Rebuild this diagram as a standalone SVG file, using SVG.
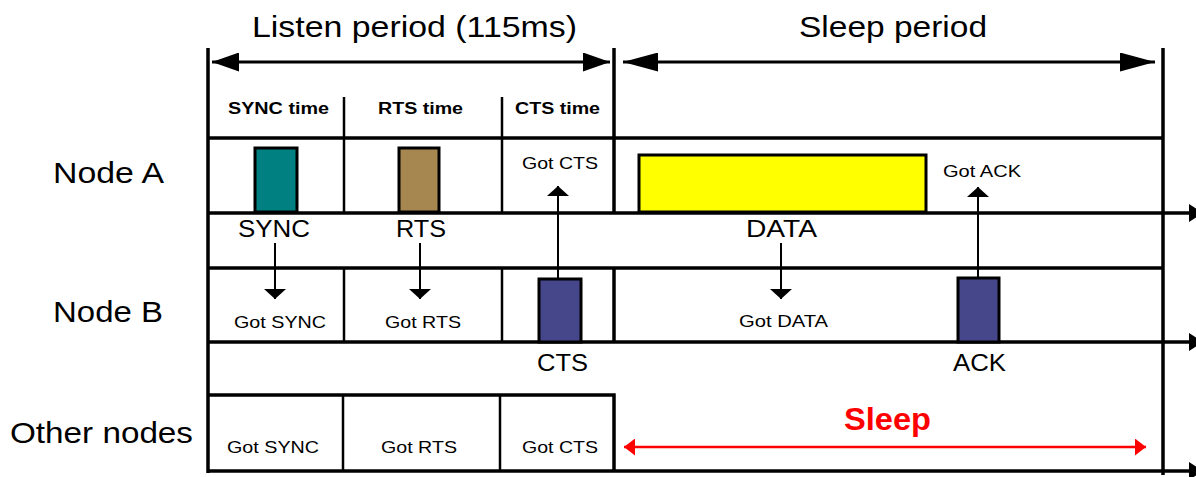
<svg xmlns="http://www.w3.org/2000/svg" width="1196" height="477" viewBox="0 0 1196 477">
<defs>
<style>
.ln{stroke:#000;stroke-width:3.5;fill:none}
.dv{stroke:#000;stroke-width:2.5;fill:none}
.cn{stroke:#000;stroke-width:2;fill:none}
.bx{stroke:#000;stroke-width:3}
.t{font-family:"Liberation Sans",Arial,sans-serif;fill:#000}
.big{font-size:29px}
.hd{font-size:16px;font-weight:bold}
.sm{font-size:17px}
.md{font-size:23px}
</style>
<marker id="ah" viewBox="0 0 10 22" markerWidth="10" markerHeight="22" refX="10" refY="11" orient="auto" markerUnits="userSpaceOnUse"><path d="M0,0 L10,11 L0,22 z" fill="#000"/></marker>
<marker id="hl" viewBox="0 0 27 19" markerWidth="27" markerHeight="19" refX="27" refY="9.5" orient="auto-start-reverse" markerUnits="userSpaceOnUse"><path d="M0,0 L27,9.5 L0,19 z" fill="#000"/></marker>
<marker id="hs" viewBox="0 0 35 19" markerWidth="35" markerHeight="19" refX="35" refY="9.5" orient="auto-start-reverse" markerUnits="userSpaceOnUse"><path d="M0,0 L35,9.5 L0,19 z" fill="#000"/></marker>
<marker id="hr" viewBox="0 0 11 17" markerWidth="11" markerHeight="17" refX="11" refY="8.5" orient="auto-start-reverse" markerUnits="userSpaceOnUse"><path d="M0,0 L11,8.5 L0,17 z" fill="#f00"/></marker>
<marker id="ht" viewBox="0 0 14 18" markerWidth="14" markerHeight="18" refX="14" refY="9" orient="auto" markerUnits="userSpaceOnUse" overflow="visible"><path d="M0,0 L14,9 L0,18 z" fill="#000"/></marker>
</defs>
<rect width="1196" height="477" fill="#fff"/>

<g id="frame">
<line class="ln" x1="208" y1="48" x2="208" y2="473"/>
<line class="ln" x1="614" y1="48" x2="614" y2="213"/>
<line class="ln" x1="614" y1="268" x2="614" y2="342"/>
<line class="ln" x1="1163" y1="48" x2="1163" y2="475"/>
<line class="ln" x1="208" y1="138" x2="1163" y2="138"/>
<line class="dv" x1="344" y1="97" x2="344" y2="213"/>
<line class="dv" x1="502" y1="97" x2="502" y2="213"/>
<text class="t big" x="252" y="37" textLength="325" lengthAdjust="spacingAndGlyphs">Listen period (115ms)</text>
<text class="t big" x="799" y="37" textLength="188" lengthAdjust="spacingAndGlyphs">Sleep period</text>
<text class="t hd" x="228" y="114" textLength="101" lengthAdjust="spacingAndGlyphs">SYNC time</text>
<text class="t hd" x="378" y="114" textLength="85" lengthAdjust="spacingAndGlyphs">RTS time</text>
<text class="t hd" x="515" y="114" textLength="85" lengthAdjust="spacingAndGlyphs">CTS time</text>
</g>

<g id="nodeA">
<text class="t big" x="53" y="183" textLength="111" lengthAdjust="spacingAndGlyphs">Node A</text>
<line class="ln" x1="208" y1="213" x2="1203" y2="213" marker-end="url(#ht)"/>
<rect class="bx" x="255" y="148" width="42" height="64" fill="#008080"/>
<rect class="bx" x="399" y="148" width="40" height="64" fill="#A5874F"/>
<rect class="bx" x="639" y="155" width="287" height="57" fill="#FFFF00"/>
<text class="t sm" x="522" y="169" textLength="76" lengthAdjust="spacingAndGlyphs">Got CTS</text>
<text class="t sm" x="943" y="177" textLength="78" lengthAdjust="spacingAndGlyphs">Got ACK</text>
<text class="t md" x="238" y="237" textLength="72" lengthAdjust="spacingAndGlyphs">SYNC</text>
<text class="t md" x="396" y="237" textLength="50" lengthAdjust="spacingAndGlyphs">RTS</text>
<text class="t md" x="746" y="237" textLength="71" lengthAdjust="spacingAndGlyphs">DATA</text>
</g>

<g id="nodeB">
<text class="t big" x="53" y="322" textLength="110" lengthAdjust="spacingAndGlyphs">Node B</text>
<line class="ln" x1="208" y1="268" x2="1163" y2="268"/>
<line class="ln" x1="208" y1="342" x2="1203" y2="342" marker-end="url(#ht)"/>
<line class="dv" x1="344" y1="268" x2="344" y2="342"/>
<line class="dv" x1="502" y1="268" x2="502" y2="342"/>
<rect class="bx" x="539" y="279" width="42" height="63" fill="#46468A"/>
<rect class="bx" x="958" y="278" width="41" height="64" fill="#46468A"/>
<text class="t sm" x="234" y="328" textLength="92" lengthAdjust="spacingAndGlyphs">Got SYNC</text>
<text class="t sm" x="385" y="328" textLength="76" lengthAdjust="spacingAndGlyphs">Got RTS</text>
<text class="t sm" x="739" y="327" textLength="89" lengthAdjust="spacingAndGlyphs">Got DATA</text>
<text class="t md" x="537" y="371" textLength="51" lengthAdjust="spacingAndGlyphs">CTS</text>
<text class="t md" x="953" y="371" textLength="53" lengthAdjust="spacingAndGlyphs">ACK</text>
</g>

<g id="otherNodes">
<text class="t big" x="10" y="443" textLength="183" lengthAdjust="spacingAndGlyphs">Other nodes</text>
<polyline class="ln" points="208,395 614,395 614,471"/>
<line class="ln" x1="208" y1="471" x2="1203" y2="471" marker-end="url(#ht)"/>
<line class="dv" x1="343" y1="395" x2="343" y2="471"/>
<line class="dv" x1="500" y1="395" x2="500" y2="471"/>
<text class="t sm" x="227" y="453" textLength="92" lengthAdjust="spacingAndGlyphs">Got SYNC</text>
<text class="t sm" x="381" y="453" textLength="76" lengthAdjust="spacingAndGlyphs">Got RTS</text>
<text class="t sm" x="522" y="453" textLength="76" lengthAdjust="spacingAndGlyphs">Got CTS</text>
<text class="t" x="844" y="430" font-size="31" font-weight="bold" style="fill:#f00" textLength="87" lengthAdjust="spacingAndGlyphs">Sleep</text>
</g>

<g id="connectors">
<line x1="212" y1="62" x2="610" y2="62" stroke="#000" stroke-width="3" marker-start="url(#hl)" marker-end="url(#hl)"/>
<line x1="623" y1="62" x2="1155" y2="62" stroke="#000" stroke-width="3" marker-start="url(#hs)" marker-end="url(#hs)"/>
<line class="cn" x1="275" y1="243" x2="275" y2="299" marker-end="url(#ah)"/>
<line class="cn" x1="420" y1="243" x2="420" y2="299" marker-end="url(#ah)"/>
<line class="cn" x1="781" y1="243" x2="781" y2="299" marker-end="url(#ah)"/>
<line class="cn" x1="558" y1="279" x2="558" y2="186" marker-end="url(#ah)"/>
<line class="cn" x1="978" y1="278" x2="978" y2="187" marker-end="url(#ah)"/>
<line x1="624" y1="447" x2="1146" y2="447" stroke="#f00" stroke-width="2.5" marker-start="url(#hr)" marker-end="url(#hr)"/>
</g>
</svg>
